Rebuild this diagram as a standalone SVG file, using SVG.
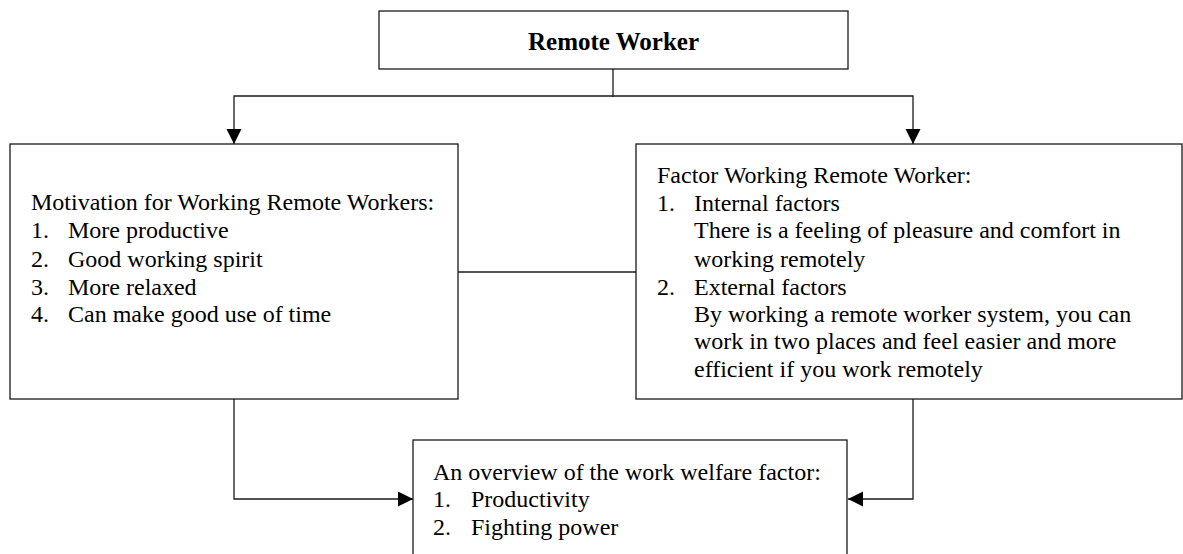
<svg xmlns="http://www.w3.org/2000/svg" width="1183" height="554" viewBox="0 0 1183 554">
  <style>
    .box { fill: #ffffff; stroke: #1a1a1a; stroke-width: 1.3; }
    .conn { fill: none; stroke: #1a1a1a; stroke-width: 1.3; }
    .t { font-family: "Liberation Serif", "Times New Roman", serif; font-size: 24px; fill: #000; }
    .title { font-family: "Liberation Serif", "Times New Roman", serif; font-size: 25px; font-weight: bold; fill: #000; }
  </style>
  <defs>
    <marker id="arrow" markerUnits="userSpaceOnUse" markerWidth="16" markerHeight="16" refX="15" refY="7.5" orient="auto">
      <path d="M0,0 L15,7.5 L0,15 Z" fill="#000"/>
    </marker>
  </defs>
  <rect width="1183" height="554" fill="#ffffff"/>

  <g id="connectors">
    <path class="conn" d="M613,69 V97"/>
    <path class="conn" d="M613,96 H234 V144" marker-end="url(#arrow)"/>
    <path class="conn" d="M613,96 H913 V144" marker-end="url(#arrow)"/>
    <path class="conn" d="M458,272 H636"/>
    <path class="conn" d="M234,399 V499 H413" marker-end="url(#arrow)"/>
    <path class="conn" d="M913,399 V499 H848" marker-end="url(#arrow)"/>
  </g>

  <g id="remote-worker">
    <rect class="box" x="379" y="11" width="469" height="58"/>
    <text class="title" x="613.5" y="50" text-anchor="middle">Remote Worker</text>
  </g>

  <g id="motivation">
    <rect class="box" x="10" y="144" width="448" height="255"/>
    <text class="t" x="31" y="210">Motivation for Working Remote Workers:</text>
    <text class="t" x="31" y="238">1.</text><text class="t" x="68" y="238">More productive</text>
    <text class="t" x="31" y="267">2.</text><text class="t" x="68" y="267">Good working spirit</text>
    <text class="t" x="31" y="295">3.</text><text class="t" x="68" y="295">More relaxed</text>
    <text class="t" x="31" y="322">4.</text><text class="t" x="68" y="322">Can make good use of time</text>
  </g>

  <g id="factor">
    <rect class="box" x="636" y="144" width="546" height="255"/>
    <text class="t" x="657" y="183">Factor Working Remote Worker:</text>
    <text class="t" x="657" y="211">1.</text><text class="t" x="694" y="211">Internal factors</text>
    <text class="t" x="694" y="238">There is a feeling of pleasure and comfort in</text>
    <text class="t" x="694" y="267">working remotely</text>
    <text class="t" x="657" y="295">2.</text><text class="t" x="694" y="295">External factors</text>
    <text class="t" x="694" y="322">By working a remote worker system, you can</text>
    <text class="t" x="694" y="349">work in two places and feel easier and more</text>
    <text class="t" x="694" y="377">efficient if you work remotely</text>
  </g>

  <g id="overview">
    <rect class="box" x="413" y="440" width="434" height="130"/>
    <text class="t" x="433" y="480">An overview of the work welfare factor:</text>
    <text class="t" x="433" y="507">1.</text><text class="t" x="471" y="507">Productivity</text>
    <text class="t" x="433" y="535">2.</text><text class="t" x="471" y="535">Fighting power</text>
  </g>
</svg>
